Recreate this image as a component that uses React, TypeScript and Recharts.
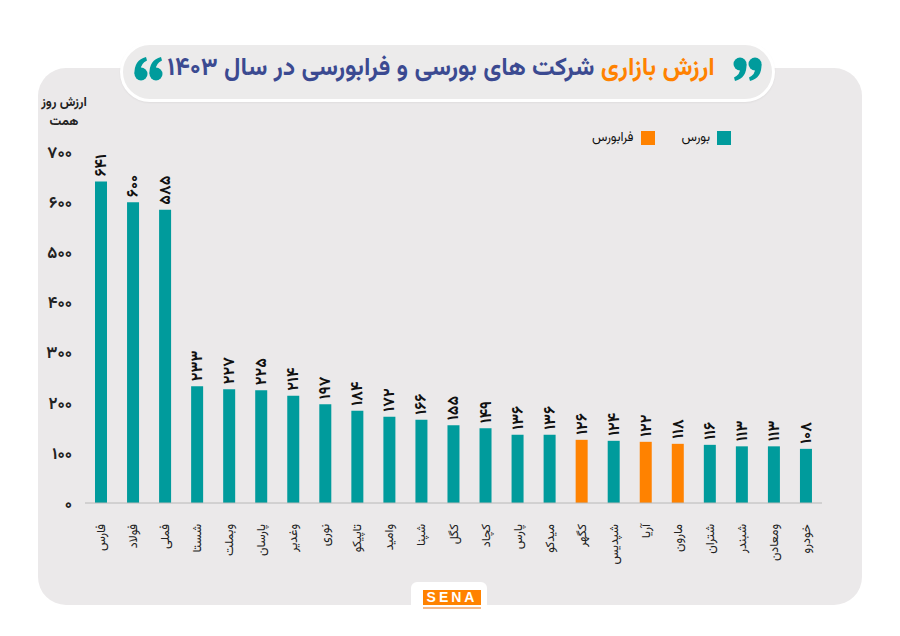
import React from "react";
import { BarChart, Bar, XAxis, YAxis, Cell, LabelList } from "recharts";

const symbols = [
  "فارس", "فولاد", "فملی", "شستا", "وبملت", "پارسان", "وغدیر", "نوری",
  "تاپیکو", "وامید", "شپنا", "کگل", "کچاد", "پارس", "میدکو", "کگهر",
  "شپدیس", "آریا", "مارون", "شتران", "شبندر", "ومعادن", "خودرو",
];
const values = [
  641, 600, 585, 233, 227, 225, 214, 197, 184, 172, 166, 155, 149, 136, 136,
  126, 124, 122, 118, 116, 113, 113, 108,
];
// "b" = بورس, "f" = فرابورس
const markets = [
  "b", "b", "b", "b", "b", "b", "b", "b", "b", "b", "b", "b", "b", "b", "b",
  "f", "b", "f", "f", "b", "b", "b", "b",
];
const yTicks = [0, 100, 200, 300, 400, 500, 600, 700];

const TEAL = "#009b9c";
const ORANGE = "#ff8200";
const FONT = "Vazirmatn, 'Noto Sans Arabic', 'DejaVu Sans', sans-serif";

const faDigits = (n: number) =>
  String(n).replace(/[0-9]/g, (d) => "۰۱۲۳۴۵۶۷۸۹"[Number(d)]);

const data = symbols.map((name, i) => ({ name, value: values[i], market: markets[i] }));

const CatTick = (props: any) => {
  const { x, y, payload } = props;
  return (
    <text
      x={x}
      y={y + 9}
      transform={`rotate(-90, ${x + 4}, ${y + 9})`}
      textAnchor="end"
      fontSize={12.5}
      fill="#222"
      fontFamily={FONT}
    >
      {payload.value}
    </text>
  );
};

const ValueLabel = (props: any) => {
  const { x, y, width, value } = props;
  const cx = x + width / 2 + 5;
  const cy = y - 5;
  return (
    <text
      x={cx}
      y={cy}
      transform={`rotate(-90, ${cx}, ${cy})`}
      textAnchor="start"
      fontSize={16}
      fontWeight="bold"
      fill="#111"
      fontFamily={FONT}
    >
      {faDigits(value)}
    </text>
  );
};

// one "9" shaped comma blob, head at top
const Blob = ({ cx, cy }: { cx: number; cy: number }) => (
  <g fill={TEAL}>
    <circle cx={cx} cy={cy} r={6.5} />
    <path
      d={`M ${cx + 6.5} ${cy} Q ${cx + 7} ${cy + 14} ${cx - 5} ${cy + 17} L ${cx - 6} ${cy + 13.5} Q ${cx + 0.5} ${cy + 10} ${cx} ${cy + 5} Z`}
    />
  </g>
);

const Quote = ({ left, flip }: { left: number; flip: boolean }) => (
  <svg
    width={30}
    height={26}
    style={{ position: "absolute", left, top: 56 }}
  >
    <g transform={flip ? "rotate(180, 15, 13)" : undefined}>
      <Blob cx={7} cy={8} />
      <Blob cx={22} cy={8} />
    </g>
  </svg>
);

export default function App() {
  return (
    <div
      style={{
        position: "fixed",
        left: 0,
        top: 0,
        width: 900,
        height: 636,
        background: "#fff",
        fontFamily: FONT,
        overflow: "hidden",
      }}
    >
      <div
        style={{
          position: "absolute",
          left: 38,
          top: 68,
          width: 824,
          height: 537,
          borderRadius: 28,
          background: "#ebe9ea",
        }}
      />
      <div
        style={{
          position: "absolute",
          left: 120,
          top: 42,
          width: 649,
          height: 54,
          borderRadius: 30,
          background: "#ecebeb",
          border: "3px solid #fff",
          boxShadow: "0 1px 2px rgba(0,0,0,0.05)",
        }}
      />
      <div
        style={{
          position: "absolute",
          left: 146,
          top: 47,
          width: 590,
          height: 44,
          lineHeight: "44px",
          textAlign: "center",
          direction: "rtl",
          fontSize: 25,
          fontWeight: "bold",
          color: "#3b4a91",
          whiteSpace: "nowrap",
        }}
      >
        <span style={{ color: ORANGE }}>ارزش بازاری</span> شرکت های بورسی و فرابورسی در سال ۱۴۰۳
      </div>
      <Quote left={733} flip={false} />
      <Quote left={133} flip={true} />

      <div
        style={{
          position: "absolute",
          left: 32,
          top: 94,
          width: 64,
          textAlign: "center",
          fontSize: 13,
          lineHeight: "19px",
          fontWeight: "bold",
          color: "#222",
          direction: "rtl",
        }}
      >
        ارزش روز
        <br />
        همت
      </div>

      <div
        style={{
          position: "absolute",
          top: 128,
          right: 900 - 731,
          display: "flex",
          alignItems: "center",
          direction: "rtl",
          fontSize: 13,
          color: "#111",
        }}
      >
        <span style={{ width: 14, height: 14, background: TEAL, display: "inline-block" }} />
        <span style={{ marginRight: 7, marginLeft: 27 }}>بورس</span>
        <span style={{ width: 14, height: 14, background: ORANGE, display: "inline-block" }} />
        <span style={{ marginRight: 7 }}>فرابورس</span>
      </div>

      <div style={{ position: "absolute", left: 0, top: 0 }}>
        <BarChart
          width={900}
          height={636}
          data={data}
          margin={{ top: 152, right: 78, left: 0, bottom: 0 }}
          barCategoryGap={10}
        >
          <XAxis
            dataKey="name"
            interval={0}
            height={133}
            tickLine={false}
            axisLine={{ stroke: "#b8b8b8" }}
            tick={<CatTick />}
          />
          <YAxis
            width={85}
            domain={[0, 700]}
            ticks={yTicks}
            axisLine={false}
            tickLine={false}
            tickSize={0}
            tickMargin={13}
            tickFormatter={(v: number) => faDigits(v)}
            tick={{ fontSize: 16.5, fontWeight: "bold", fill: "#222", fontFamily: FONT }}
          />
          <Bar dataKey="value" isAnimationActive={false} barSize={12}>
            {data.map((d, i) => (
              <Cell key={i} fill={d.market === "f" ? ORANGE : TEAL} />
            ))}
            <LabelList dataKey="value" content={<ValueLabel />} />
          </Bar>
        </BarChart>
      </div>

      <div
        style={{
          position: "absolute",
          left: 411,
          top: 582,
          width: 76,
          height: 32,
          background: "#fff",
          borderRadius: 6,
        }}
      >
        <div
          style={{
            position: "absolute",
            left: 12,
            top: 8,
            width: 58,
            height: 15,
            background: ORANGE,
            color: "#fff",
            fontFamily: "Arial, 'Liberation Sans', sans-serif",
            fontWeight: "bold",
            fontSize: 14,
            lineHeight: "15px",
            letterSpacing: 3,
            textAlign: "center",
          }}
        >
          SENA
        </div>
        <div
          style={{
            position: "absolute",
            left: 12,
            top: 25,
            width: 58,
            height: 2,
            background: "#f4b98a",
          }}
        />
      </div>
    </div>
  );
}
